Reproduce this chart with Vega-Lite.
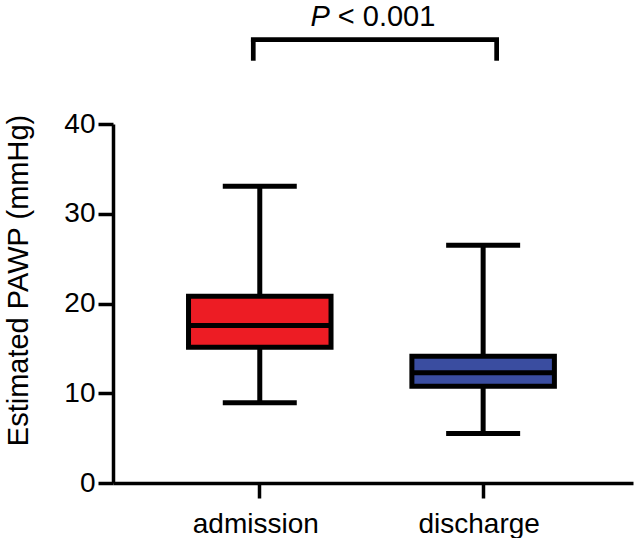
{
  "$schema": "https://vega.github.io/schema/vega-lite/v6.json",
  "width": 520,
  "height": 359,
  "autosize": {"type": "none"},
  "padding": {"left": 113, "top": 124, "right": 1, "bottom": 55},
  "background": "white",
  "config": {
    "view": {"stroke": null},
    "font": "Liberation Sans",
    "axis": {
      "domainColor": "black",
      "domainWidth": 3.5,
      "tickColor": "black",
      "tickWidth": 3.5,
      "tickSize": 15,
      "labelColor": "black",
      "labelFont": "Liberation Sans",
      "labelFontSize": 28,
      "titleFont": "Liberation Sans",
      "titleFontSize": 29,
      "titleFontWeight": "normal",
      "titleColor": "black",
      "grid": false
    }
  },
  "datasets": {
    "stats": [
      {"group": "admission", "min": 8.93, "q1": 15.13, "median": 17.55, "q3": 20.8, "max": 33.07},
      {"group": "discharge", "min": 5.52, "q1": 10.79, "median": 12.28, "q3": 14.13, "max": 26.5}
    ],
    "annot": [
      {"from": "admission", "to": "discharge", "legLow": 47.05, "top": 49.4, "textY": 50.9, "sym": "P", "rest": "< 0.001"}
    ]
  },
  "layer": [
    {
      "data": {"name": "stats"},
      "mark": {"type": "rule", "strokeWidth": 5, "color": "black"},
      "encoding": {
        "x": {"field": "group", "type": "nominal"},
        "y": {"field": "min", "type": "quantitative"},
        "y2": {"field": "max"}
      }
    },
    {
      "data": {"name": "stats"},
      "mark": {"type": "tick", "size": 74, "thickness": 5, "color": "black", "opacity": 1},
      "encoding": {
        "x": {"field": "group", "type": "nominal"},
        "y": {"field": "min", "type": "quantitative"}
      }
    },
    {
      "data": {"name": "stats"},
      "mark": {"type": "tick", "size": 74, "thickness": 5, "color": "black", "opacity": 1},
      "encoding": {
        "x": {"field": "group", "type": "nominal"},
        "y": {"field": "max", "type": "quantitative"}
      }
    },
    {
      "data": {"name": "stats"},
      "mark": {"type": "bar", "stroke": "black", "strokeWidth": 5},
      "encoding": {
        "x": {
          "field": "group",
          "type": "nominal",
          "sort": ["admission", "discharge"],
          "scale": {"type": "band", "paddingInner": 0.362, "paddingOuter": 0.345, "align": 0.49},
          "axis": {"title": null, "labelAngle": 0, "labelAlign": "center", "labelBaseline": "top", "labelPadding": 12, "labelOffset": -4}
        },
        "y": {
          "field": "q1",
          "type": "quantitative",
          "scale": {"domain": [0, 40], "nice": false, "zero": true},
          "axis": {"values": [0, 10, 20, 30, 40], "title": "Estimated PAWP (mmHg)", "labelPadding": 3, "titlePadding": 30, "titleY": 156}
        },
        "y2": {"field": "q3"},
        "fill": {
          "field": "group",
          "type": "nominal",
          "scale": {"domain": ["admission", "discharge"], "range": ["#ED1C24", "#3A4DA0"]},
          "legend": null
        }
      }
    },
    {
      "data": {"name": "stats"},
      "mark": {"type": "tick", "size": 141, "thickness": 5, "color": "black", "opacity": 1},
      "encoding": {
        "x": {"field": "group", "type": "nominal"},
        "y": {"field": "median", "type": "quantitative"}
      }
    },
    {
      "data": {"name": "annot"},
      "mark": {"type": "rule", "strokeWidth": 4.7, "color": "black", "xOffset": -6.5},
      "encoding": {
        "x": {"field": "from", "type": "nominal"},
        "y": {"field": "legLow", "type": "quantitative"},
        "y2": {"field": "top"}
      }
    },
    {
      "data": {"name": "annot"},
      "mark": {"type": "rule", "strokeWidth": 4.7, "color": "black", "xOffset": 13.5},
      "encoding": {
        "x": {"field": "to", "type": "nominal"},
        "y": {"field": "legLow", "type": "quantitative"},
        "y2": {"field": "top"}
      }
    },
    {
      "data": {"name": "annot"},
      "mark": {"type": "rule", "strokeWidth": 4.7, "color": "black", "strokeCap": "square", "xOffset": -6.5, "x2Offset": 13.5},
      "encoding": {
        "x": {"field": "from", "type": "nominal"},
        "x2": {"field": "to"},
        "y": {"field": "top", "type": "quantitative"}
      }
    },
    {
      "data": {"name": "annot"},
      "mark": {"type": "text", "fontSize": 29, "fontStyle": "italic", "align": "right", "baseline": "alphabetic", "dx": 70, "color": "black", "font": "Liberation Sans"},
      "encoding": {
        "x": {"field": "from", "type": "nominal"},
        "y": {"field": "textY", "type": "quantitative"},
        "text": {"field": "sym"}
      }
    },
    {
      "data": {"name": "annot"},
      "mark": {"type": "text", "fontSize": 29, "align": "left", "baseline": "alphabetic", "dx": 78, "color": "black", "font": "Liberation Sans"},
      "encoding": {
        "x": {"field": "from", "type": "nominal"},
        "y": {"field": "textY", "type": "quantitative"},
        "text": {"field": "rest"}
      }
    }
  ]
}
